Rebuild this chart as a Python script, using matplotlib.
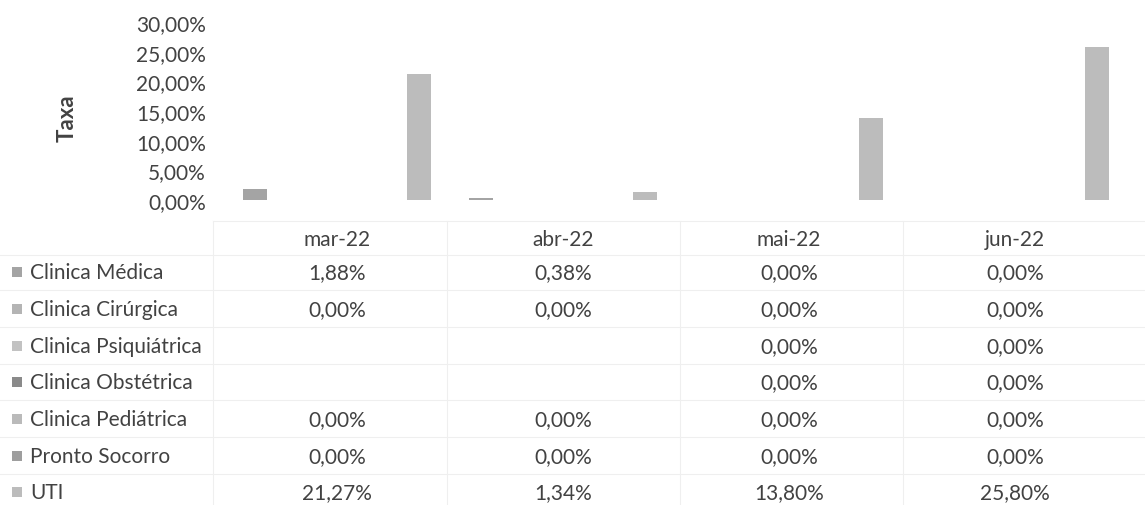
import numpy as np
import matplotlib.pyplot as plt
from matplotlib.patches import Rectangle

plt.rcParams['font.family'] = ['Lato', 'DejaVu Sans']

meses = ['mar-22', 'abr-22', 'mai-22', 'jun-22']
setores = ['Clinica Médica', 'Clinica Cirúrgica', 'Clinica Psiquiátrica',
           'Clinica Obstétrica', 'Clinica Pediátrica', 'Pronto Socorro', 'UTI']

nan = np.nan
medica = [1.88, 0.38, 0.00, 0.00]
cirurgica = [0.00, 0.00, 0.00, 0.00]
psiquiatrica = [nan, nan, 0.00, 0.00]
obstetrica = [nan, nan, 0.00, 0.00]
pediatrica = [0.00, 0.00, 0.00, 0.00]
pronto_socorro = [0.00, 0.00, 0.00, 0.00]
uti = [21.27, 1.34, 13.80, 25.80]

series = [medica, cirurgica, psiquiatrica, obstetrica, pediatrica, pronto_socorro, uti]
cores = ['#a4a4a4', '#b4b4b4', '#c2c2c2', '#8a8a8a', '#bababa', '#9e9e9e', '#bcbcbc']

W, H = 1145, 506
FS = 15
COR_TXT = '#424242'
fig = plt.figure(figsize=(W / 100, H / 100), dpi=100)

# eixo do gráfico em pixels: x 224..1128, y 23..201
ax = fig.add_axes([224 / W, 1 - 201 / H, (1128 - 224) / W, (201 - 23) / H])
x = np.arange(len(meses))
passo = 0.121
for i, (vals, cor) in enumerate(zip(series, cores)):
    ax.bar(x + (i - 3) * passo, vals, width=0.11, color=cor, linewidth=0)

ax.set_xlim(-0.5, 3.5)
ax.set_ylim(0, 30)
ax.set_yticks(np.arange(0, 31, 5))
ax.set_yticklabels([f'{v:.2f}%'.replace('.', ',') for v in np.arange(0, 31, 5)],
                   fontsize=FS, color=COR_TXT)
ax.set_xticks([])
ax.tick_params(axis='y', length=0, pad=13)
for s in ax.spines.values():
    s.set_visible(False)

fig.text(67 / W, 1 - 118 / H, 'Taxa', rotation=90, ha='center', va='center',
         fontsize=16, fontweight='bold', color=COR_TXT)


def fy(py):
    return 1 - py / H


def ay(py):
    return (201 - py) / (201 - 23)


# tabela de dados abaixo do gráfico
linhas_y = [273, 310, 347, 383, 420, 457, 493]
cab_y = 240
tr = ax.get_xaxis_transform()

for j, m in enumerate(meses):
    ax.text(j, ay(cab_y), m, transform=tr, ha='center', va='center',
            fontsize=FS, color=COR_TXT, clip_on=False)

for i, (nome, vals, cor) in enumerate(zip(setores, series, cores)):
    yy = linhas_y[i]
    fig.patches.append(Rectangle((12 / W, fy(yy + 5)), 10 / W, 10 / H,
                                 transform=fig.transFigure, color=cor, lw=0))
    fig.text(30 / W, fy(yy), nome, ha='left', va='center', fontsize=FS,
             color=COR_TXT)
    for j, v in enumerate(vals):
        if np.isnan(v):
            continue
        ax.text(j, ay(yy), f'{v:.2f}%'.replace('.', ','), transform=tr,
                ha='center', va='center', fontsize=FS, color=COR_TXT,
                clip_on=False)

# grade bem clara da tabela
cor_grade = '#efefef'
for py in [222, 256, 291, 328, 365, 401, 438, 475]:
    x0 = 213 if py == 222 else 0
    fig.add_artist(plt.Line2D([x0 / W, 1], [fy(py), fy(py)],
                              transform=fig.transFigure, color=cor_grade, lw=0.8))
for px in [213, 447, 680, 903]:
    fig.add_artist(plt.Line2D([px / W, px / W], [fy(222), fy(506)],
                              transform=fig.transFigure, color=cor_grade, lw=0.8))

fig.savefig('out.png', dpi=100, facecolor='white')
